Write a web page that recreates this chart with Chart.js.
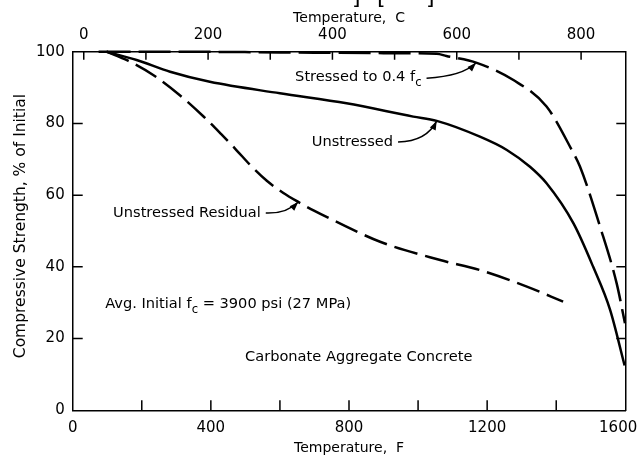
<!DOCTYPE html>
<html>
<head>
<meta charset="utf-8">
<script src="https://cdn.jsdelivr.net/npm/chart.js@4.4.1/dist/chart.umd.min.js"></script>
<style>
  html, body { margin: 0; padding: 0; background: #fff; }
</style>
</head>
<body>
<canvas id="strengthChart" width="642" height="459"></canvas>
<script>
// temperature in deg F, strength in % of initial
const unstressedTemp = [98, 185, 282, 397, 600, 793, 986, 1054, 1179, 1257, 1324, 1372, 1450, 1507, 1556, 1598];
const unstressedStrength = [100, 97.7, 94.4, 91.6, 88.4, 85.6, 81.9, 80.7, 76.3, 72.6, 67.9, 63.3, 52.1, 40.0, 28.0, 12.5];

const residualTemp = [98, 160, 233, 311, 378, 430, 470, 520, 562, 610, 653, 700, 755, 890, 1064, 1179, 1315, 1420];
const residualStrength = [100, 97.5, 93.5, 87.8, 82.0, 77.0, 73.0, 67.8, 64.0, 60.6, 58.1, 55.6, 53.0, 47.0, 41.9, 39.1, 34.5, 30.3];

const stressedTemp = [75, 300, 600, 900, 1054, 1082, 1170, 1276, 1372, 1445, 1469, 1527, 1575, 1599];
const stressedStrength = [100, 100, 99.8, 99.6, 99.4, 98.8, 96.9, 92.1, 84.7, 72.6, 67.9, 51.2, 35.4, 24.3];

const fTicks = [0, 200, 400, 600, 800, 1000, 1200, 1400, 1600];
const fLabels = [0, 400, 800, 1200, 1600];
const cTicks = [0, 100, 200, 300, 400, 500, 600, 700, 800];
const cLabels = [0, 200, 400, 600, 800];
const yTicks = [0, 20, 40, 60, 80, 100];

const FONT = '"DejaVu Sans", sans-serif';
const fToC = f => (f - 32) / 1.8;
const toXY = (xs, ys) => xs.map((x, i) => ({ x: x, y: ys[i] }));

function setTicks(values) {
  return scale => { scale.ticks = values.map(v => ({ value: v })); };
}

// curved pointer with a filled head at (x2, y2)
function arrow(ctx, x1, y1, cx, cy, x2, y2) {
  ctx.beginPath();
  ctx.moveTo(x1, y1);
  ctx.quadraticCurveTo(cx, cy, x2, y2);
  ctx.stroke();
  const a = Math.atan2(y2 - cy, x2 - cx);
  const len = 9, half = 3.2;
  ctx.beginPath();
  ctx.moveTo(x2, y2);
  ctx.lineTo(x2 - len * Math.cos(a) + half * Math.sin(a), y2 - len * Math.sin(a) - half * Math.cos(a));
  ctx.lineTo(x2 - len * Math.cos(a) - half * Math.sin(a), y2 - len * Math.sin(a) + half * Math.cos(a));
  ctx.closePath();
  ctx.fill();
}

// text with "c" subscripts, parts are [text, isSub]
function richText(ctx, parts, x, y, size) {
  let cx = x;
  parts.forEach(([t, sub]) => {
    ctx.font = (sub ? size * 0.8 : size) + 'px ' + FONT;
    ctx.fillText(t, cx, sub ? y + size * 0.4 : y);
    cx += ctx.measureText(t).width;
  });
  return cx;
}

const decorations = {
  id: 'decorations',
  afterDraw(chart) {
    const ctx = chart.ctx;
    const { x, xC, y } = chart.scales;
    const { left, right, top, bottom } = chart.chartArea;
    ctx.save();
    ctx.strokeStyle = '#000';
    ctx.fillStyle = '#000';
    ctx.lineWidth = 1.5;

    // inward tick marks on all four sides
    ctx.beginPath();
    fTicks.slice(1, -1).forEach(v => {
      const px = x.getPixelForValue(v);
      ctx.moveTo(px, bottom); ctx.lineTo(px, bottom - 10);
    });
    cTicks.forEach(v => {
      const px = xC.getPixelForValue(v);
      ctx.moveTo(px, top); ctx.lineTo(px, top + 8);
    });
    yTicks.slice(1, -1).forEach(v => {
      const py = y.getPixelForValue(v);
      ctx.moveTo(left, py); ctx.lineTo(left + 10, py);
      ctx.moveTo(right, py); ctx.lineTo(right - 9, py);
    });
    ctx.stroke();

    const px = v => x.getPixelForValue(v);
    const py = v => y.getPixelForValue(v);
    ctx.textBaseline = 'middle';
    ctx.textAlign = 'left';
    const size = 14.6;

    // curve labels with pointers
    const endS = richText(ctx, [['Stressed to 0.4 f', false], ['c', true]], px(644), py(92.9), size);
    arrow(ctx, endS + 5, py(92.6), px(1130), py(93.2), px(1168), py(96.9));

    ctx.font = size + 'px ' + FONT;
    ctx.fillText('Unstressed', px(692), py(74.8));
    arrow(ctx, px(942), py(74.8), px(1025), py(75), px(1054), py(80.7));

    ctx.fillText('Unstressed Residual', px(117), py(55));
    arrow(ctx, px(559), py(55), px(620), py(54.8), px(653), py(58.1));

    richText(ctx, [['Avg. Initial f', false], ['c', true], [' = 3900 psi (27 MPa)', false]], px(94), py(29.6), size);
    ctx.font = size + 'px ' + FONT;
    ctx.fillText('Carbonate Aggregate Concrete', px(499), py(14.8));

    // bottoms of the brackets from the line above the figure
    ctx.font = '22px ' + FONT;
    ctx.textBaseline = 'alphabetic';
    ctx.fillText(']', 352, 4);
    ctx.fillText('[', 377, 4);
    ctx.fillText(']', 426, 4);
    ctx.restore();
  }
};

const tickFont = { family: FONT, size: 15 };
const titleFont = { family: FONT, size: 14 };
const axisBorder = { display: true, color: '#000', width: 1.5 };

new Chart(document.getElementById('strengthChart').getContext('2d'), {
  type: 'line',
  data: {
    datasets: [{
      label: 'Unstressed',
      data: toXY(unstressedTemp, unstressedStrength),
      borderColor: '#000',
      borderWidth: 2.5,
      pointRadius: 0,
      cubicInterpolationMode: 'monotone',
      clip: false
    }, {
      label: 'Unstressed Residual',
      data: toXY(residualTemp, residualStrength),
      borderColor: '#000',
      borderWidth: 2.5,
      borderDash: [24, 8],
      pointRadius: 0,
      cubicInterpolationMode: 'monotone',
      clip: false
    }, {
      label: 'Stressed to 0.4 fc',
      data: toXY(stressedTemp, stressedStrength),
      borderColor: '#000',
      borderWidth: 2.5,
      borderDash: [32, 8],
      pointRadius: 0,
      cubicInterpolationMode: 'monotone',
      clip: false
    }]
  },
  options: {
    responsive: false,
    animation: false,
    layout: { padding: 0 },
    plugins: {
      legend: { display: false },
      tooltip: { enabled: false }
    },
    scales: {
      x: {
        type: 'linear',
        position: 'bottom',
        min: 0,
        max: 1600,
        afterBuildTicks: setTicks(fTicks),
        afterFit: s => { s.height = 48.7; s.paddingLeft = 0; s.paddingRight = 0; },
        grid: { display: false, drawTicks: false },
        border: axisBorder,
        ticks: {
          color: '#000', font: tickFont, padding: 9, maxRotation: 0, autoSkip: false,
          // the last label sits a little inside the frame
          callback: v => v === 1600 ? '1600   ' : (fLabels.includes(v) ? String(v) : '')
        },
        title: { display: true, text: 'Temperature,  F', color: '#000', font: titleFont, padding: { top: 0, bottom: 2.6 } }
      },
      xC: {
        type: 'linear',
        position: 'top',
        min: fToC(0),
        max: fToC(1600),
        afterBuildTicks: setTicks(cTicks),
        afterFit: s => { s.height = 51.7; s.paddingLeft = 0; s.paddingRight = 0; },
        grid: { display: false, drawTicks: false },
        border: axisBorder,
        ticks: {
          color: '#000', font: tickFont, padding: 8, maxRotation: 0, autoSkip: false,
          callback: v => cLabels.includes(v) ? String(v) : ''
        },
        title: { display: true, text: 'Temperature,  C', color: '#000', font: titleFont, padding: { top: 9.6, bottom: 0 } }
      },
      y: {
        type: 'linear',
        position: 'left',
        min: 0,
        max: 100,
        afterBuildTicks: setTicks(yTicks),
        afterFit: s => { s.width = 72.7; },
        grid: { display: false, drawTicks: false },
        border: axisBorder,
        ticks: { color: '#000', font: tickFont, padding: 8 },
        title: { display: true, text: '  Compressive Strength, % of Initial', color: '#000', font: { family: FONT, size: 15.5 }, padding: { top: 12, bottom: 0 } }
      },
      y2: {
        type: 'linear',
        position: 'right',
        min: 0,
        max: 100,
        afterFit: s => { s.width = 16.7; },
        grid: { display: false, drawTicks: false },
        border: axisBorder,
        ticks: { display: false }
      }
    }
  },
  plugins: [decorations]
});
</script>
</body>
</html>
